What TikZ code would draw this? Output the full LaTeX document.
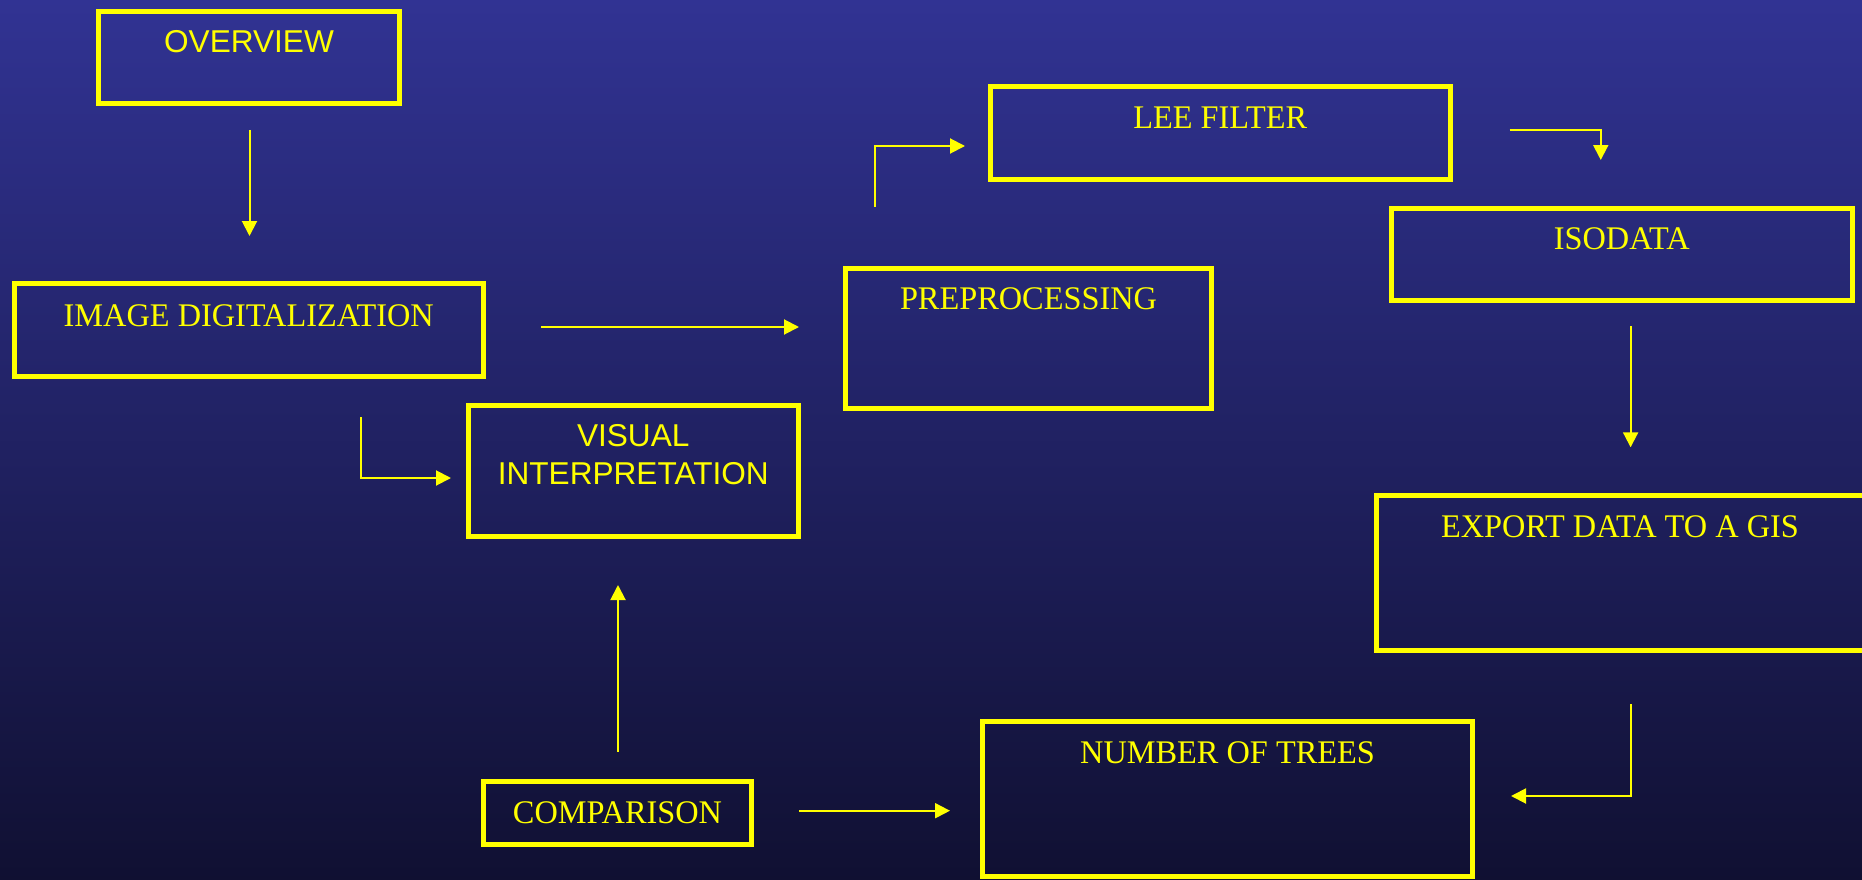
\documentclass[tikz,border=0pt]{standalone}
\usepackage{fontspec}
\setmainfont{Liberation Serif}[FakeStretch=0.98]
\newfontfamily\arialfont{Liberation Sans}
\usetikzlibrary{arrows.meta,calc}
\definecolor{bgtop}{RGB}{49,51,147}
\definecolor{bgmid}{RGB}{36,38,112}
\definecolor{bgbot}{RGB}{16,16,50}
\definecolor{ylw}{RGB}{255,255,0}
% box text: #1 height, #2 gap above first line, #3 lines
\newcommand{\btxt}[3]{\vbox to #1{\baselineskip=38pt\lineskiplimit=-100pt\vskip#2\relax\halign{\hfil##\hfil\cr#3\crcr}\vfil}}
\tikzset{
  fbox/.style={draw=ylw, line width=5pt, inner sep=0pt, outer sep=0pt, text=ylw, font=\fontsize{33}{38}\selectfont},
  abox/.style={fbox, font=\arialfont\fontsize{31.6}{38}\selectfont},
  arr/.style={draw=ylw, line width=2pt, -{Triangle[length=15pt,width=15pt]}},
}
\begin{document}
\begin{tikzpicture}[x=1pt,y=-1pt]
\shade[top color=bgtop, middle color=bgmid, bottom color=bgbot] (0,0) rectangle (1862,880);
\useasboundingbox (0,0) rectangle (1862,880);

\node[abox, minimum width=301pt, minimum height=92pt] (ov) at (249,57.5) {\btxt{92pt}{19pt}{OVERVIEW}};
\node[fbox, minimum width=469.5pt, minimum height=92.5pt] (id) at (248.75,329.75) {\btxt{92.5pt}{21pt}{IMAGE DIGITALIZATION}};
\node[abox, minimum width=330.5pt, minimum height=131pt] (vi) at (633.25,470.5) {\btxt{131pt}{19pt}{VISUAL\cr INTERPRETATION}};
\node[fbox, minimum width=366pt, minimum height=140.5pt] (pp) at (1028.5,338.25) {\btxt{140.5pt}{20pt}{PREPROCESSING}};
\node[fbox, minimum width=460.5pt, minimum height=93pt] (lee) at (1220.25,132.7) {\btxt{93pt}{20.5pt}{LEE FILTER}};
\node[fbox, minimum width=460.5pt, minimum height=92pt] (iso) at (1621.75,254) {\btxt{92pt}{20pt}{ISODATA}};
\node[fbox, minimum width=488pt, minimum height=155pt] (exp) at (1620,573) {\btxt{155pt}{20pt}{EXPORT DATA TO A GIS}};
\node[fbox, minimum width=490pt, minimum height=155.5pt] (nt) at (1227.5,798.75) {\btxt{155.5pt}{21pt}{NUMBER OF TREES}};
\node[fbox, minimum width=268pt, minimum height=63pt] (cmp) at (617.5,813) {\btxt{63pt}{20.5pt}{COMPARISON}};

% connectors
\coordinate (a1) at ($(ov.south)+(0.5,26.5)$);
\coordinate (b1) at ($(id.north)+(0,-47.5)$);
\draw[arr] (a1) -- (a1 |- b1);

\coordinate (a2) at ($(id.east)+(57.5,-2.75)$);
\coordinate (b2) at ($(pp.west)+(-46.5,0)$);
\draw[arr] (a2) -- (a2 -| b2);

\draw[arr] ($(id.south)+(112.25,41)$) |- ($(vi.west)+(-17,7.5)$);

\draw[arr] ($(pp.north)+(-154,-61.4)$) |- ($(lee.west)+(-25,13.3)$);

\draw[arr] ($(lee.east)+(59.2,-2.7)$) -| ($(iso.north)+(-21,-48)$);

\coordinate (a6) at ($(iso.south)+(8.85,26)$);
\coordinate (b6) at ($(exp.north)+(0,-48.2)$);
\draw[arr] (a6) -- (a6 |- b6);

\draw[arr] ($(exp.south)+(10.8,53.5)$) |- ($(nt.east)+(38.5,-2.75)$);

\coordinate (a8) at ($(cmp.east)+(47.5,-2.3)$);
\coordinate (b8) at ($(nt.west)+(-32.5,0)$);
\draw[arr] (a8) -- (a8 -| b8);

\coordinate (a9) at ($(cmp.north)+(0.5,-29.8)$);
\coordinate (b9) at ($(vi.south)+(0,49)$);
\draw[arr] (a9) -- (a9 |- b9);
\end{tikzpicture}
\end{document}
